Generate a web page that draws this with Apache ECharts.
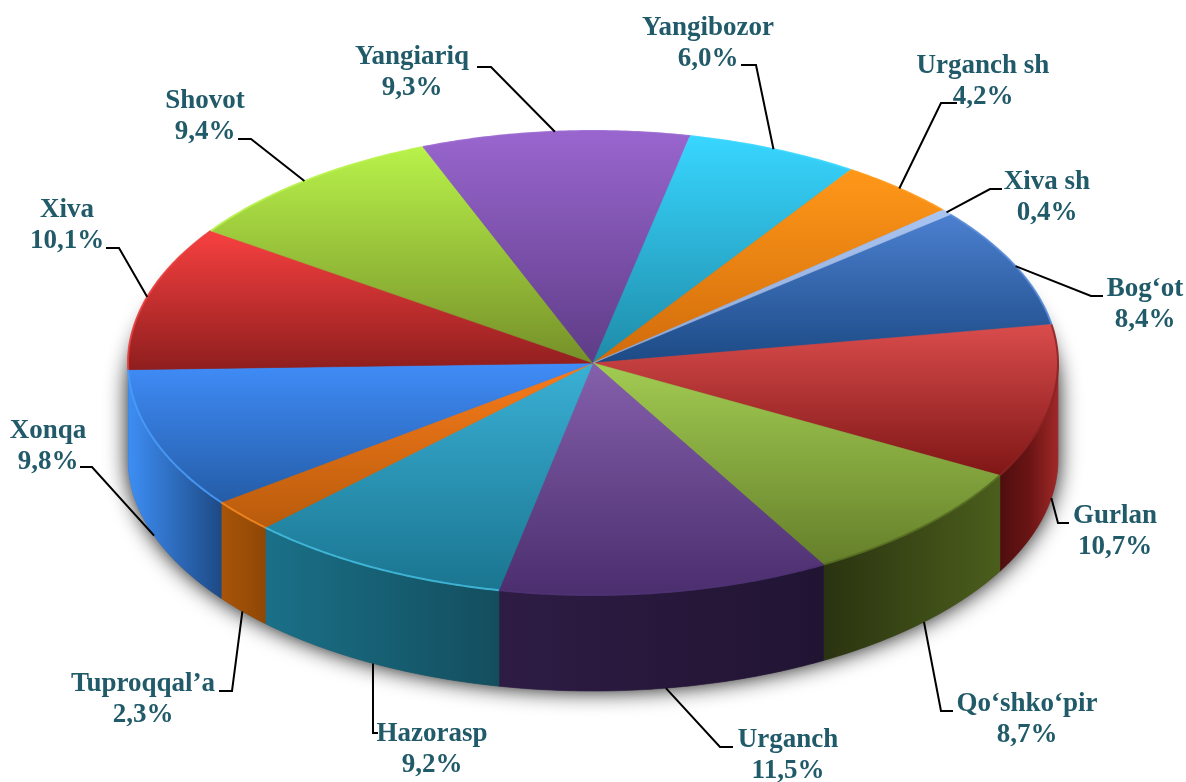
<!DOCTYPE html>
<html>
<head>
<meta charset="utf-8">
<style>html,body{margin:0;padding:0;background:#fff}#c{width:1186px;height:782px}</style>
<script src="https://cdn.jsdelivr.net/npm/echarts@6/dist/echarts.min.js"></script>
</head>
<body>
<div id="c"></div>
<script>
// ---- data ----
const categories = ["Bog‘ot","Gurlan","Qo‘shko‘pir","Urganch","Hazorasp","Tuproqqal’a","Xonqa","Xiva","Shovot","Yangiariq","Yangibozor","Urganch sh","Xiva sh"];
const shares = [8.4,10.7,8.7,11.5,9.2,2.3,9.8,10.1,9.4,9.3,6.0,4.2,0.4];

// ---- styles ----
const topColors = [
  ["#4C80D0","#1C4A85"],["#DA4C4C","#7F1616"],["#A2CC52","#657F2A"],["#8560AC","#4B2E6E"],
  ["#3AB0D5","#1A7590"],["#F97C1B","#B85B0C"],["#408CF8","#245DA8"],["#F84040","#8F1E1E"],
  ["#B8F24A","#769029"],["#9966CF","#5E3C86"],["#38D6FF","#1F8BA8"],["#FF9818","#D06B0C"],["#A8C4F0","#8FA8D8"]
];
const sideColors = [
  ["#1C4A85","#1C4A85"],["#4E0E0E","#6A1414","#A02828"],["#2A3310","#4B5E1C"],["#2E1C44","#211433"],
  ["#1A7088","#134E5E"],["#A85508","#8F4705"],["#3D8EF5","#1E4A85"],["#8F1E1E","#8F1E1E"],
  ["#769029","#769029"],["#5E3C86","#5E3C86"],["#1F8BA8","#1F8BA8"],["#D06B0C","#D06B0C"],["#8FA8D8","#8FA8D8"]
];
const rimColors = ["#5A8CD8","#8A2222","#566C22","#4F3274","#45BEE0","#F58A26","#4A9EFA","#E84040","#B8F24A","#9966CF","#38D6FF","#FF9818","#A8C4F0"];

// ---- layout: pie geometry and label placement ----
const PIE = {cx:593, cy:363, rx:465, ry:232, depth:96, startDeg:-39.8};
const labelLayout = [
  {at:[1145,304], path:[[1091,296],[1103,296]]},
  {at:[1115,531], path:[[1058,523],[1069,523]]},
  {at:[1027,719], path:[[941,711],[953,711]]},
  {at:[788,755],  path:[[720,747],[733,747]]},
  {at:[432,749],  path:[[373,733],[378,733]]},
  {at:[143,699],  path:[[232,691],[219,691]]},
  {at:[48,446],   path:[[92,467],[80,467]]},
  {at:[67,225],   path:[[119,248],[106,248]]},
  {at:[205,116],  path:[[251,139],[238,139]]},
  {at:[412,72],   path:[[491,67],[477,67]]},
  {at:[708,43],   path:[[756,65],[741,65]]},
  {at:[983,81],   path:[[941,103],[957,103]]},
  {at:[1047,197], path:[[990,189],[1002,189]]}
];

const total = shares.reduce((a,b)=>a+b,0);
const rad = d => d*Math.PI/180;
const pt = (t,dy) => [PIE.cx+PIE.rx*Math.cos(t), PIE.cy+PIE.ry*Math.sin(t)+(dy||0)];
function arc(t0,t1,dy){
  const n = Math.max(2,Math.ceil(Math.abs(t1-t0)/rad(0.5))), out=[];
  for(let i=0;i<=n;i++) out.push(pt(t0+(t1-t0)*i/n,dy));
  return out;
}
function bounds(p){
  const xs=p.map(a=>a[0]), ys=p.map(a=>a[1]);
  return {x0:Math.min(...xs),x1:Math.max(...xs),y0:Math.min(...ys),y1:Math.max(...ys)};
}
function stops(c){return c.map((color,i)=>({offset:i/(c.length-1),color}));}
function range(i){
  let before=0; for(let k=0;k<i;k++) before+=shares[k];
  const a=rad(PIE.startDeg)+before/total*2*Math.PI;
  return [a,a+shares[i]/total*2*Math.PI];
}
function frontClip(a,b){
  const spans=[];
  for(const o of [0,2*Math.PI]){
    const lo=Math.max(a,o), hi=Math.min(b,o+Math.PI);
    if(hi>lo) spans.push([lo,hi]);
  }
  return spans;
}

function renderSlice(params,api){
  const i=params.dataIndex, [a,b]=range(i), children=[];
  for(const [lo,hi] of frontClip(a,b)){
    const top=arc(lo,hi,0), bot=arc(hi,lo,PIE.depth), poly=top.concat(bot), bb=bounds(poly);
    if(bb.x1-bb.x0<2) continue;
    const g=new echarts.graphic.LinearGradient(bb.x0,0,bb.x1,0,stops(sideColors[i]),true);
    children.push({type:'polygon',shape:{points:poly},style:{fill:g,stroke:g,lineWidth:0.6},z2:1});
  }
  const topPoly=[[PIE.cx,PIE.cy]].concat(arc(a,b,0)), bb=bounds(topPoly);
  const g=new echarts.graphic.LinearGradient(0,bb.y0,0,bb.y1,stops(topColors[i]),true);
  children.push({type:'polygon',shape:{points:topPoly},style:{fill:g,stroke:g,lineWidth:0.6},z2:2});
  children.push({type:'polyline',shape:{points:arc(a,b,0)},style:{fill:null,stroke:rimColors[i],lineWidth:2,opacity:0.85},z2:3});
  return {type:'group',children};
}

function renderLabel(params,api){
  const i=params.dataIndex, [a,b]=range(i), mid=(a+b)/2;
  const front=Math.sin(mid)>0, end=pt(mid,front?PIE.depth:0), L=labelLayout[i];
  const txt=categories[i]+"\n"+api.value(0).toFixed(1).replace('.',',')+"%";
  return {type:'group',children:[
    {type:'polyline',shape:{points:[end].concat(L.path)},style:{fill:null,stroke:'#000',lineWidth:2},z2:5},
    {type:'text',x:L.at[0],y:L.at[1]+1,style:{text:txt,x:0,y:0,align:'center',verticalAlign:'middle',
      font:'bold 27px "Liberation Serif"',lineHeight:31,fill:'#215A69'},z2:6}
  ]};
}

function renderBase(){
  const poly=arc(0,Math.PI,PIE.depth).concat(arc(Math.PI,2*Math.PI,30));
  return {type:'polygon',shape:{points:poly},style:{fill:'#555',shadowColor:'rgba(0,0,0,0.95)',shadowBlur:22,shadowOffsetX:0,shadowOffsetY:0}};
}

const chart=echarts.init(document.getElementById('c'),null,{renderer:'canvas'});
chart.setOption({
  animation:false,
  backgroundColor:'#fff',
  series:[
    {type:'custom',coordinateSystem:'none',z:1,silent:true,data:[[total]],renderItem:renderBase},
    {type:'custom',coordinateSystem:'none',z:2,silent:true,data:shares.map(v=>[v]),renderItem:renderSlice},
    {type:'custom',coordinateSystem:'none',z:3,silent:true,data:shares.map(v=>[v]),renderItem:renderLabel}
  ]
});
</script>
</body>
</html>
